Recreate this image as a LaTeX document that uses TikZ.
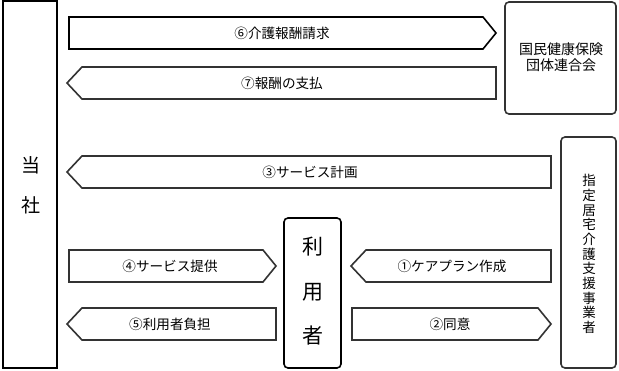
\documentclass[tikz,border=0pt]{standalone}
\usepackage{fontspec}
\setmainfont{Noto Sans CJK JP}
\usepackage{xcolor}
\usepackage{tikz}
\definecolor{lineGray}{HTML}{333333}

\tikzset{
  party/.style={draw=lineGray, line width=1.6pt, rounded corners=4pt, fill=white},
  flow/.style={draw=lineGray, line width=1.6pt, fill=white},
  flowtext/.style={font=\fontsize{13.6}{15}\selectfont, inner sep=0pt},
}

\begin{document}
\begin{tikzpicture}[x=1pt, y=-1pt]
  \useasboundingbox (0,0) rectangle (619,371);
  % parties
  \draw[draw=black, line width=1.8pt, fill=white] (3,1) rectangle (57,368);
  \node[font=\fontsize{19}{22}\selectfont] (toB) at (31,165) {当};
  \node[font=\fontsize{19}{22}\selectfont] (toS) at (31,205) {社};
  \draw[party] (505,2) rectangle (616,114);
  \node[font=\fontsize{14}{16}\selectfont, align=center] (kokuho) at (561,57) {国民健康保険\\団体連合会};
  \draw[party] (561,137) rectangle (616,368);
  \node[font=\fontsize{13.5}{14.7}\selectfont, align=center] (kyotaku) at (589,254)
    {指\\定\\居\\宅\\介\\護\\支\\援\\事\\業\\者};
  \draw[party, draw=black] (284,218) rectangle (341,368);
  \node[font=\fontsize{21}{24}\selectfont] (riyo1) at (313,247) {利};
  \node[font=\fontsize{21}{24}\selectfont] (riyo2) at (313,292) {用};
  \node[font=\fontsize{21}{24}\selectfont] (riyo3) at (313,336) {者};
  % flows
  \draw[flow, draw=black] (69,17) -- (483,17) -- (496,33) -- (483,49) -- (69,49) -- cycle;
  \node[flowtext] (seikyu) at (282,33) {⑥介護報酬請求};
  \draw[flow] (67,83) -- (82,67) -- (496,67) -- (496,99) -- (82,99) -- cycle;
  \node[flowtext] (shiharai) at (282,83) {⑦報酬の支払};
  \draw[flow] (67,172) -- (82,156) -- (551,156) -- (551,188) -- (82,188) -- cycle;
  \node[flowtext] (keikaku) at (310,172) {③サービス計画};
  \draw[flow] (69,250) -- (263,250) -- (276,266) -- (263,282) -- (69,282) -- cycle;
  \node[flowtext] (teikyo) at (170,266) {④サービス提供};
  \draw[flow] (67,324) -- (82,308) -- (276,308) -- (276,340) -- (82,340) -- cycle;
  \node[flowtext] (futan) at (170,324) {⑤利用者負担};
  \draw[flow] (351,266) -- (366,250) -- (551,250) -- (551,282) -- (366,282) -- cycle;
  \node[flowtext] (careplan) at (452,266) {①ケアプラン作成};
  \draw[flow] (352,308) -- (538,308) -- (551,324) -- (538,340) -- (352,340) -- cycle;
  \node[flowtext] (doui) at (450,324) {②同意};
\end{tikzpicture}
\end{document}
